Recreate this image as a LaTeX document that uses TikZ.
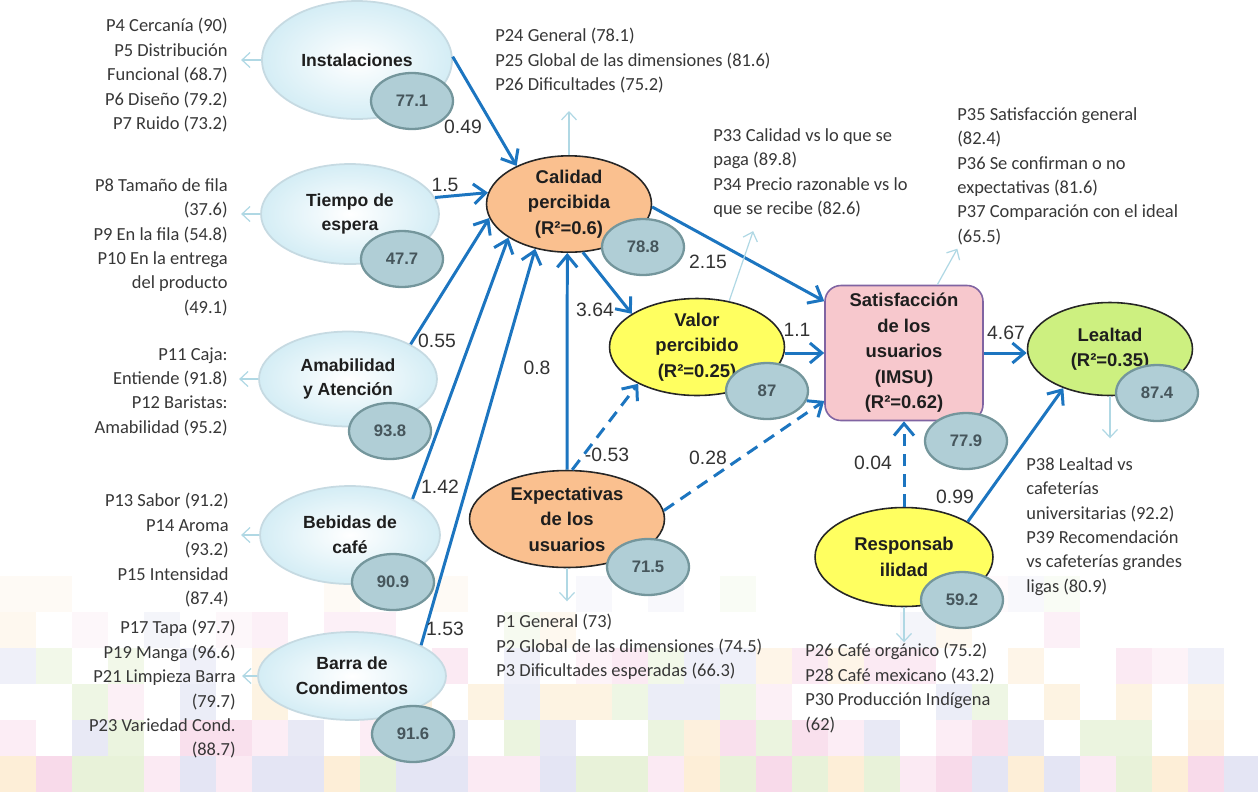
\documentclass[tikz,border=0pt]{standalone}
\usepackage{fontspec}
\setmainfont{Carlito}
\newfontfamily\arialfont{Liberation Sans}
\usetikzlibrary{arrows.meta,shapes.geometric}

\definecolor{pathblue}{RGB}{28,117,192}
\definecolor{indcyan}{RGB}{176,216,228}
\definecolor{latfill}{RGB}{212,237,245}
\definecolor{latborder}{RGB}{198,218,226}
\definecolor{valfill}{RGB}{176,206,214}
\definecolor{valborder}{RGB}{116,150,156}
\definecolor{valtext}{RGB}{70,86,92}
\definecolor{orangefill}{RGB}{250,192,143}
\definecolor{yellowfill}{RGB}{255,255,96}
\definecolor{pinkfill}{RGB}{247,200,205}
\definecolor{imsuborder}{RGB}{128,100,162}
\definecolor{greenfill}{RGB}{205,240,128}
\definecolor{textdark}{RGB}{30,30,30}
\definecolor{itemgray}{RGB}{55,55,55}
\definecolor{mosA}{RGB}{238,168,205}
\definecolor{mosB}{RGB}{200,224,165}
\definecolor{mosC}{RGB}{190,194,228}
\definecolor{mosD}{RGB}{250,214,160}
\definecolor{mosE}{RGB}{246,206,226}

\begin{document}
\begin{tikzpicture}[x=0.02cm,y=-0.02cm,
  lat/.style={ellipse,draw=latborder,line width=1pt,inner color=white,outer color=latfill,font=\arialfont\bfseries\fontsize{10}{14}\selectfont,text=textdark,align=center,inner sep=0pt},
  core/.style={ellipse,draw=black!85,line width=0.9pt,font=\arialfont\bfseries\fontsize{10.5}{14.5}\selectfont,text=textdark,align=center,inner sep=0pt},
  val/.style={ellipse,draw=valborder,line width=1.3pt,fill=valfill,minimum width=1.64cm,minimum height=1.12cm,font=\arialfont\bfseries\fontsize{9.5}{11}\selectfont,text=valtext,inner sep=0pt},
  items/.style={font=\fontsize{10.5}{13.9}\selectfont,text=itemgray,inner sep=0pt},
  coef/.style={font=\arialfont\fontsize{11}{13}\selectfont,text=black!80,inner sep=1pt},
  path/.style={draw=pathblue,line width=1.7pt,-{Straight Barb[length=2.4mm,width=4mm]}},
  weak/.style={path,dash pattern=on 7pt off 4.5pt},
  ind/.style={draw=indcyan,line width=0.7pt,-{Straight Barb[length=1.6mm,width=3mm]}}]

  \useasboundingbox (0,0) rectangle (1258,792);

  % background mosaic
  \pgfmathsetseed{5}
  \pgfmathdeclarerandomlist{tiles}{{mosA}{mosB}{mosC}{mosD}{mosE}}
  \foreach \ty/\pr/\op in {756/1/0.42,720/0.8/0.36,684/0.6/0.3,648/0.5/0.24,612/0.35/0.17,576/0.2/0.11}
    \foreach \tx in {0,36,...,1224} {
      \pgfmathtruncatemacro\hit{rnd<\pr}
      \pgfmathrandomitem{\tcol}{tiles}
      \ifnum\hit=1 \fill[\tcol,opacity=\op] (\tx,\ty) rectangle ++(36,36); \fi
    }

  % exogenous constructs
  \node(inst)   [lat,minimum width=3.8cm,minimum height=2.36cm] at (357,60) {Instalaciones};
  \node(tiempo) [lat,minimum width=3.56cm,minimum height=2cm] at (350,214) {Tiempo de\\espera};
  \node(amab)   [lat,minimum width=3.56cm,minimum height=1.9cm] at (348,379) {Amabilidad\\y Atención};
  \node(bebidas)[lat,minimum width=3.6cm,minimum height=1.96cm] at (350,535) {Bebidas de\\café};
  \node(barra)  [lat,minimum width=3.76cm,minimum height=1.76cm] at (352,676) {Barra de\\Condimentos};

  % model constructs
  \node(calidad)[core,fill=orangefill,minimum width=3.3cm,minimum height=1.9cm] at (569,204) {Calidad\\percibida\\(R²=0.6)};
  \node(valor)  [core,fill=yellowfill,minimum width=3.5cm,minimum height=1.94cm] at (697,347) {Valor\\percibido\\(R²=0.25)};
  \node(expect) [core,fill=orangefill,minimum width=3.9cm,minimum height=1.94cm] at (567,519) {Expectativas\\de los\\usuarios};
  \node(satisf) [rectangle,rounded corners=9pt,draw=imsuborder,line width=0.9pt,fill=pinkfill,minimum width=3.16cm,minimum height=2.7cm,font=\arialfont\bfseries\fontsize{10.5}{14.5}\selectfont,text=textdark,align=center,inner sep=0pt] at (904,353) {Satisfacción\\de los\\usuarios\\(IMSU)\\(R²=0.62)};
  \node(lealtad)[core,fill=greenfill,minimum width=3.3cm,minimum height=1.86cm] at (1110,349) {Lealtad\\(R²=0.35)};
  \node(respons)[core,fill=yellowfill,minimum width=3.56cm,minimum height=1.98cm] at (904,557) {Responsab\\ilidad};

  % index values
  \node(v_inst)   [val] at (412,101) {77.1};
  \node(v_tiempo) [val] at (402,259) {47.7};
  \node(v_amab)   [val] at (390,431) {93.8};
  \node(v_bebidas)[val] at (393,582) {90.9};
  \node(v_barra)  [val] at (413,734) {91.6};
  \node(v_calidad)[val] at (643,247) {78.8};
  \node(v_valor)  [val] at (767,391) {87};
  \node(v_expect) [val] at (648,567) {71.5};
  \node(v_satisf) [val] at (966,441) {77.9};
  \node(v_lealtad)[val] at (1157,393) {87.4};
  \node(v_respons)[val] at (962,600) {59.2};

  % structural paths
  \draw[path] (inst.2) -- (calidad.144);
  \draw[path] (tiempo.11) -- (calidad.172);
  \draw[path] (amab.29) -- (calidad.190);
  \draw[path] (bebidas.30) -- (calidad.209);
  \draw[path] (barra.24) -- (calidad.233);
  \draw[path] (expect.north) -- (calidad.268);
  \draw[path] (calidad.286) -- (valor.153);
  \draw[weak] (expect.84) -- (valor.212);
  \draw[weak] (expect.5) -- (satisf.211);
  \draw[path] (calidad.358) -- (satisf.147);
  \draw[path] (satisf.west -| valor.east) -- (satisf.west);
  \draw[path] (satisf.east) -- (satisf.east -| lealtad.west);
  \draw[weak] (respons.north) -- (satisf.south);
  \draw[path] (respons.29) -- (lealtad.220);

  % path coefficients
  \node(c_inst)   [coef] at (463,127) {0.49};
  \node(c_tiempo) [coef] at (445,185) {1.5};
  \node(c_amab)   [coef] at (437,341) {0.55};
  \node(c_bebidas)[coef] at (440,487) {1.42};
  \node(c_barra)  [coef] at (445,629) {1.53};
  \node(c_expcal) [coef] at (537,368) {0.8};
  \node(c_calval) [coef] at (595,310) {3.64};
  \node(c_expval) [coef] at (607,455) {-0.53};
  \node(c_expsat) [coef] at (708,458) {0.28};
  \node(c_calsat) [coef] at (708,262) {2.15};
  \node(c_valsat) [coef] at (797,330) {1.1};
  \node(c_satlea) [coef] at (1006,333) {4.67};
  \node(c_ressat) [coef] at (873,463) {0.04};
  \node(c_reslea) [coef] at (955,497) {0.99};

  % indicators
  \draw[ind] (inst.west) -- ++(-20,0);
  \draw[ind] (tiempo.west) -- ++(-19,0);
  \draw[ind] (amab.west) -- ++(-19,0);
  \draw[ind] (bebidas.west) -- ++(-18,0);
  \draw[ind] (barra.west) -- ++(-15,0);
  \draw[ind] (calidad.north) -- ++(0,-44);
  \draw[ind] (valor.55) -- ++(24,-70);
  \draw[ind] (satisf.64) -- ++(20,-36);
  \draw[ind] (lealtad.south) -- ++(0,42);
  \draw[ind] (expect.south) -- ++(0,33);
  \draw[ind] (respons.south) -- ++(0,35);

  \node(i_inst)   [items,align=right,anchor=north east] at (228,18) {P4 Cercanía (90)\\P5 Distribución\\Funcional (68.7)\\P6 Diseño (79.2)\\P7 Ruido (73.2)};
  \node(i_tiempo) [items,align=right,anchor=north east] at (228,178) {P8 Tamaño de fila\\(37.6)\\P9 En la fila (54.8)\\P10 En la entrega\\del producto\\(49.1)};
  \node(i_amab)   [items,align=right,anchor=north east] at (228,347) {P11 Caja:\\Entiende (91.8)\\P12 Baristas:\\Amabilidad (95.2)};
  \node(i_bebidas)[items,align=right,anchor=north east] at (229,493) {P13 Sabor (91.2)\\P14 Aroma\\(93.2)\\P15 Intensidad\\(87.4)};
  \node(i_barra)  [items,align=right,anchor=north east] at (236,620) {P17 Tapa (97.7)\\P19 Manga (96.6)\\P21 Limpieza Barra\\(79.7)\\P23 Variedad Cond.\\(88.7)};
  \node(i_calidad)[items,align=left,anchor=north west] at (495,28) {P24 General (78.1)\\P25 Global de las dimensiones (81.6)\\P26 Dificultades (75.2)};
  \node(i_valor)  [items,align=left,anchor=north west] at (713,128) {P33 Calidad vs lo que se\\paga (89.8)\\P34 Precio razonable vs lo\\que se recibe (82.6)};
  \node(i_satisf) [items,align=left,anchor=north west] at (957,107) {P35 Satisfacción general\\(82.4)\\P36 Se confirman o no\\expectativas (81.6)\\P37 Comparación con el ideal\\(65.5)};
  \node(i_lealtad)[items,align=left,anchor=north west] at (1026,457) {P38 Lealtad vs\\cafeterías\\universitarias (92.2)\\P39 Recomendación\\vs cafeterías grandes\\ligas (80.9)};
  \node(i_expect) [items,align=left,anchor=north west] at (496,614) {P1 General (73)\\P2 Global de las dimensiones (74.5)\\P3 Dificultades esperadas (66.3)};
  \node(i_respons)[items,align=left,anchor=north west] at (805,643) {P26 Café orgánico (75.2)\\P28 Café mexicano (43.2)\\P30 Producción Indígena\\(62)};
\end{tikzpicture}
\end{document}
